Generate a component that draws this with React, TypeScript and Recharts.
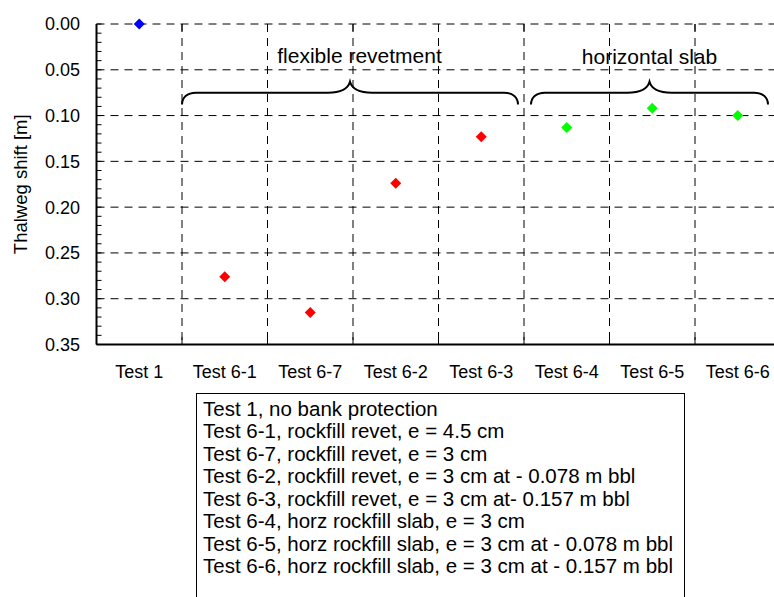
import {
  CartesianGrid,
  ComposedChart,
  Legend,
  ReferenceArea,
  ReferenceLine,
  Scatter,
  XAxis,
  YAxis,
} from 'recharts';

const tests = ['Test 1', 'Test 6-1', 'Test 6-7', 'Test 6-2', 'Test 6-3', 'Test 6-4', 'Test 6-5', 'Test 6-6'];
const shifts = [0.0, 0.276, 0.315, 0.174, 0.123, 0.113, 0.092, 0.1];
const pointColors = ['#0000ff', '#ff0000', '#ff0000', '#ff0000', '#ff0000', '#00ff00', '#00ff00', '#00ff00'];
const descriptions = [
  'Test 1, no bank protection',
  'Test 6-1, rockfill revet, e = 4.5 cm',
  'Test 6-7, rockfill revet, e = 3 cm',
  'Test 6-2, rockfill revet, e = 3 cm at - 0.078 m bbl',
  'Test 6-3, rockfill revet, e = 3 cm at- 0.157 m bbl',
  'Test 6-4, horz rockfill slab, e = 3 cm',
  'Test 6-5, horz rockfill slab, e = 3 cm at - 0.078 m bbl',
  'Test 6-6, horz rockfill slab, e = 3 cm at - 0.157 m bbl',
];
const yTicks = [0, 0.05, 0.1, 0.15, 0.2, 0.25, 0.3, 0.35];
const yMinorTicks = [
  0, 0.01, 0.02, 0.03, 0.04, 0.05, 0.06, 0.07, 0.08, 0.09, 0.1, 0.11, 0.12, 0.13, 0.14, 0.15, 0.16, 0.17,
  0.18, 0.19, 0.2, 0.21, 0.22, 0.23, 0.24, 0.25, 0.26, 0.27, 0.28, 0.29, 0.3, 0.31, 0.32, 0.33, 0.34, 0.35,
];
const groupLabels = ['flexible revetment', 'horizontal slab'];
const groupFrom = ['Test 6-1', 'Test 6-4'];
const groupTo = ['Test 6-3', 'Test 6-6'];

const data = tests.map((test, i) => ({ test, shift: shifts[i], color: pointColors[i] }));

const FONT = '"Liberation Sans", Arial, sans-serif';

// brace tweaks, pixels
const braceInsetL = [0, 7];
const braceInsetR = [6, 12.5];
const braceLabelDx = [9.5, 0];
// length of the inner boundary ticks on top / bottom edge, in axis units
const edgeTick = 0.008;

const Diamond = (p: any) => {
  const { cx, cy, payload } = p;
  const r = 5.5;
  return (
    <path d={`M${cx},${cy - r}L${cx + r},${cy}L${cx},${cy + r}L${cx - r},${cy}Z`} fill={payload.color} />
  );
};

const makeBrace = (i: number) => (p: any) => {
  const { x, y, width, height } = p;
  const x0 = x + braceInsetL[i];
  const x1 = x + width - braceInsetR[i];
  const xm = (x0 + x1) / 2;
  const yTip = y;
  const yEnd = y + height;
  const yMid = y + height * 0.48;
  const d = [
    `M${x0},${yEnd}`,
    `C${x0},${yMid + 5} ${x0 + 5},${yMid} ${x0 + 14},${yMid}`,
    `L${xm - 22},${yMid}`,
    `C${xm - 8},${yMid} ${xm - 2},${yMid - 4} ${xm},${yTip}`,
    `C${xm + 2},${yMid - 4} ${xm + 8},${yMid} ${xm + 22},${yMid}`,
    `L${x1 - 14},${yMid}`,
    `C${x1 - 5},${yMid} ${x1},${yMid + 5} ${x1},${yEnd}`,
  ].join(' ');
  return (
    <g>
      <path d={d} fill='none' stroke='#000' strokeWidth={2} />
      <text
        x={xm + braceLabelDx[i]}
        y={yTip - 19 + i * 1.5}
        textAnchor='middle'
        fontFamily={FONT}
        fontSize={21}
        fill='#000'
      >
        {groupLabels[i]}
      </text>
    </g>
  );
};

const bandStart = (s: any, v: string): number | undefined => {
  if (typeof s === 'function') return s(v);
  if (s && typeof s.scale === 'function') return s.scale(v);
  if (s && typeof s.map === 'function') return s.map(v, { position: 'start' });
  return undefined;
};

// vertical grid lines sit on the category boundaries (band starts)
const boundaryLines = ({ xAxis, offset }: any) =>
  tests.slice(1).map((t, i) => {
    const v = bandStart(xAxis?.scale, t);
    return typeof v === 'number' && Number.isFinite(v)
      ? v
      : offset.left + ((i + 1) * offset.width) / tests.length;
  });

const LegendBox = () => (
  <div
    style={{
      border: '1.5px solid #000',
      padding: '3.5px 6px 40px',
      fontFamily: FONT,
      fontSize: 20.5,
      lineHeight: '22.5px',
      color: '#000',
      background: '#fff',
      boxSizing: 'border-box',
      textAlign: 'left',
    }}
  >
    {descriptions.map((d) => (
      <div key={d} style={{ whiteSpace: 'nowrap' }}>
        {d}
      </div>
    ))}
  </div>
);

export default function App() {
  return (
    <div style={{ position: 'fixed', left: 0, top: 0, width: 774, height: 597, overflow: 'hidden', background: '#fff' }}>
      <ComposedChart
        width={800}
        height={597}
        data={data}
        margin={{ top: 24, right: 19.5, left: 0, bottom: 222.5 }}
      >
        <XAxis
          xAxisId='cat'
          dataKey='test'
          type='category'
          scale='band'
          height={30}
          interval={0}
          tickLine={false}
          tickMargin={14.5}
          axisLine={{ stroke: '#000', strokeWidth: 2 }}
          tick={{ fill: '#000', fontSize: 18, fontFamily: FONT }}
        />
        <YAxis
          yAxisId='minor'
          type='number'
          domain={[0, 0.35]}
          allowDataOverflow
          reversed
          ticks={yMinorTicks}
          interval={0}
          mirror
          width={1}
          axisLine={false}
          tick={() => <g />}
          tickSize={5}
          tickLine={{ stroke: '#000' }}
        />
        <YAxis
          yAxisId='main'
          dataKey='shift'
          type='number'
          domain={[0, 0.35]}
          reversed
          ticks={yTicks}
          interval={0}
          width={96.5}
          tickLine={false}
          tickMargin={10.5}
          tickFormatter={(v: number) => v.toFixed(2)}
          axisLine={{ stroke: '#000', strokeWidth: 2 }}
          tick={{ fill: '#000', fontSize: 18, fontFamily: FONT }}
          label={{
            value: 'Thalweg shift [m]',
            angle: -90,
            position: 'insideLeft',
            offset: 20,
            style: { textAnchor: 'middle', fontSize: 18.5, fontFamily: FONT, fill: '#000' },
          }}
        />
        <CartesianGrid
          xAxisId='cat'
          yAxisId='main'
          stroke='#000'
          strokeDasharray='8 6'
          verticalCoordinatesGenerator={boundaryLines}
        />
        {tests.slice(1).map((t) => (
          <ReferenceLine
            key={`b-${t}`}
            xAxisId='cat'
            yAxisId='main'
            position='start'
            segment={[
              { x: t, y: yTicks[yTicks.length - 1] },
              { x: t, y: yTicks[yTicks.length - 1] - edgeTick },
            ]}
            stroke='#000'
          />
        ))}
        {tests.slice(1).map((t) => (
          <ReferenceLine
            key={`t-${t}`}
            xAxisId='cat'
            yAxisId='main'
            position='start'
            segment={[
              { x: t, y: yTicks[0] },
              { x: t, y: yTicks[0] + edgeTick },
            ]}
            stroke='#000'
          />
        ))}
        {groupLabels.map((g, i) => (
          <ReferenceArea
            key={g}
            xAxisId='cat'
            yAxisId='main'
            x1={groupFrom[i]}
            x2={groupTo[i]}
            y1={0.063}
            y2={0.088}
            shape={makeBrace(i)}
          />
        ))}
        <Scatter
          xAxisId='cat'
          yAxisId='main'
          data={data}
          dataKey='shift'
          shape={Diamond}
          isAnimationActive={false}
        />
        <Legend
          verticalAlign='middle'
          align='center'
          layout='horizontal'
          wrapperStyle={{ left: 196, top: 393, width: 489 }}
          content={() => <LegendBox />}
        />
      </ComposedChart>
    </div>
  );
}
